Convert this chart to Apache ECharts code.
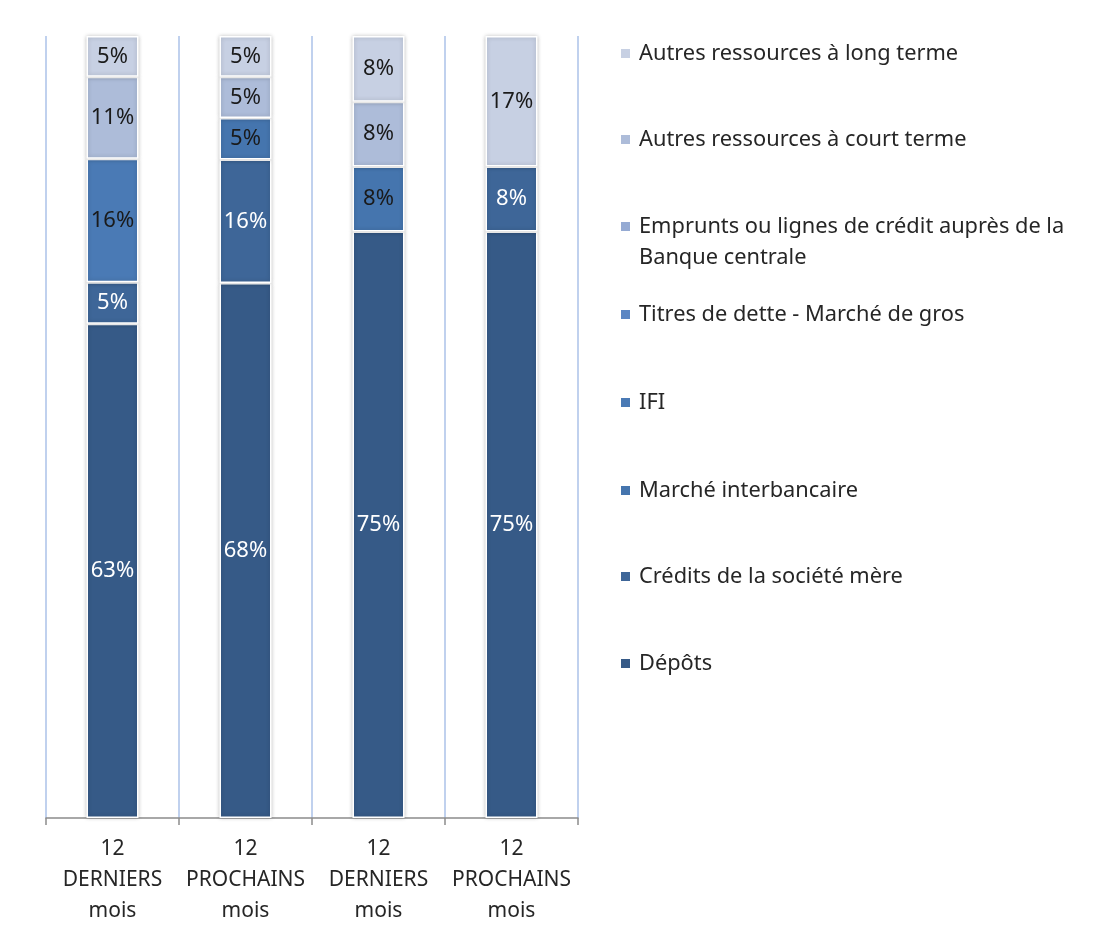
<!DOCTYPE html>
<html>
<head>
<meta charset="utf-8">
<script src="https://cdn.jsdelivr.net/npm/echarts@6/dist/echarts.min.js"></script>
<style>
  html, body { margin: 0; padding: 0; background: #ffffff; }
  #chart { position: absolute; left: 0; top: 0; width: 1105px; height: 933px; }
</style>
</head>
<body>
<div id="chart"></div>
<script>
// Periods on the x axis
const categories = [
  '12\nDERNIERS\nmois',
  '12\nPROCHAINS\nmois',
  '12\nDERNIERS\nmois',
  '12\nPROCHAINS\nmois'
];

// Funding sources, stacked bottom to top (shares in %)
const depots            = [63.2, 68.4, 75.0, 75.0];
const creditsMere       = [5.3, 15.8, null, 8.3];
const marcheInterbanc   = [null, 5.3, 8.3, null];
const ifi               = [15.8, null, null, null];
const titresDette       = [null, null, null, null];
const empruntsBC        = [null, null, null, null];
const autresCourtTerme  = [10.5, 5.3, 8.3, null];
const autresLongTerme   = [5.2, 5.2, 8.4, 16.7];

const seriesNames = [
  'Dépôts',
  'Crédits de la société mère',
  'Marché interbancaire',
  'IFI',
  'Titres de dette - Marché de gros',
  'Emprunts ou lignes de crédit auprès de la Banque centrale',
  'Autres ressources à court terme',
  'Autres ressources à long terme'
];
const seriesValues = [depots, creditsMere, marcheInterbanc, ifi, titresDette, empruntsBC, autresCourtTerme, autresLongTerme];
const seriesColors = ['#365a87', '#3e6698', '#4575ae', '#4a7ab5', '#5b86c3', '#95aad3', '#adbcd9', '#c7d0e3'];
const labelColors  = ['#ffffff', '#ffffff', '#1a1a1a', '#1a1a1a', '#1a1a1a', '#1a1a1a', '#1a1a1a', '#1a1a1a'];

const FONT = '"Noto Sans", "Open Sans", sans-serif';

// Legend: one entry per row, listed top to bottom from the last stacked series
const legendRowsY = [53.5, 139.5, 226.5, 314.5, 402.5, 490.5, 576.5, 663.5];
const legendOrder = seriesNames.slice().reverse();
const legends = legendOrder.map((name, i) => {
  const multi = name.indexOf('Banque centrale') >= 0;
  return {
    data: [name],
    orient: 'vertical',
    left: 619,
    top: legendRowsY[i] - (multi ? 46.5 : 15.5),
    itemWidth: 11,
    itemHeight: 11,
    icon: 'rect',
    selectedMode: false,
    padding: 0,
    formatter: multi ? '\nEmprunts ou lignes de crédit auprès de la\nBanque centrale' : '{name}',
    textStyle: { fontFamily: FONT, fontSize: 21.8, lineHeight: 31, color: '#262626', padding: [0, 0, 0, 3] }
  };
});

const series = seriesNames.map((name, i) => ({
  name: name,
  type: 'bar',
  stack: 'total',
  barWidth: 52,
  data: seriesValues[i],
  itemStyle: {
    color: seriesColors[i],
    borderColor: '#ffffff',
    borderWidth: 1.5,
    shadowBlur: 4,
    shadowColor: 'rgba(0,0,0,0.22)'
  },
  label: {
    show: true,
    position: 'inside',
    fontFamily: FONT,
    fontSize: 22,
    color: labelColors[i],
    formatter: p => (p.value == null ? '' : Math.round(p.value) + '%')
  },
  emphasis: { disabled: true }
}));

const chart = echarts.init(document.getElementById('chart'), null, { renderer: 'canvas' });
chart.setOption({
  animation: false,
  backgroundColor: '#ffffff',
  grid: { left: 46, top: 36, width: 532, height: 782, containLabel: false },
  legend: legends,
  xAxis: {
    type: 'category',
    data: categories,
    axisLine: { show: true, lineStyle: { color: '#8c8c8c', width: 1.5 } },
    axisTick: { show: true, length: 7, lineStyle: { color: '#8c8c8c', width: 1.5 } },
    axisLabel: { fontFamily: FONT, fontSize: 21, lineHeight: 31, color: '#262626', margin: 16, interval: 0 },
    splitLine: { show: true, lineStyle: { color: '#abc2e8', width: 1.5 } }
  },
  yAxis: {
    type: 'value',
    min: 0,
    max: 100,
    show: false
  },
  series: series
});
</script>
</body>
</html>
